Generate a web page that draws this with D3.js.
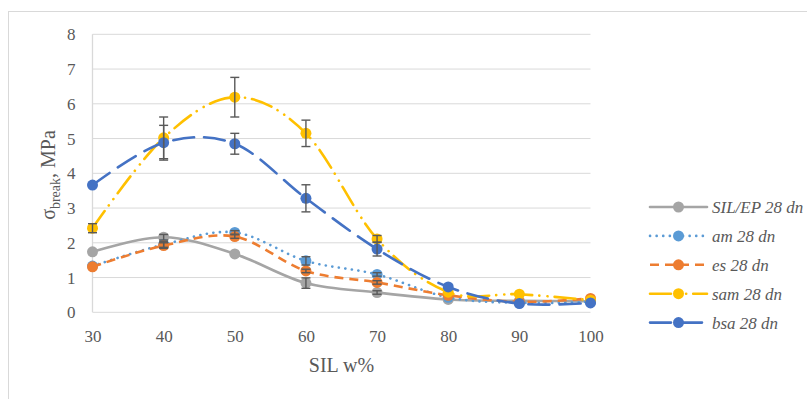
<!DOCTYPE html>
<html lang="en">
<head>
    <meta charset="utf-8">
    <script src="https://d3js.org/d3.v7.min.js"></script>
    <style>
        body { margin: 0; background: #fff; }
    </style>
</head>
<body>
    <div id="chart"></div>
    <script>
        // SIL content, w%
        const silContent = [30, 40, 50, 60, 70, 80, 90, 100];
        const yTicks = [0, 1, 2, 3, 4, 5, 6, 7, 8];

        // breaking stress, MPa
        const silEp = [1.74, 2.16, 1.68, 0.84, 0.57, 0.37, 0.33, 0.32];
        const am    = [1.33, 1.95, 2.30, 1.48, 1.09, 0.43, 0.27, 0.30];
        const es    = [1.31, 1.92, 2.18, 1.19, 0.86, 0.49, 0.30, 0.40];
        const sam   = [2.42, 5.02, 6.19, 5.15, 2.11, 0.58, 0.52, 0.35];
        const bsa   = [3.66, 4.88, 4.85, 3.28, 1.82, 0.73, 0.25, 0.27];

        // error bars (+/-)
        const silEpErr = [0, 0.08, 0, 0.15, 0.05, 0, 0, 0];
        const amErr    = [0, 0.08, 0.05, 0.12, 0.05, 0, 0, 0];
        const esErr    = [0, 0.08, 0.05, 0.05, 0.05, 0, 0, 0];
        const samErr   = [0.13, 0.6, 0.57, 0.38, 0.1, 0, 0, 0];
        const bsaErr   = [0, 0.5, 0.3, 0.39, 0.2, 0, 0, 0];

        const seriesNames = ["SIL/EP 28 dn", "am 28 dn", "es 28 dn", "sam 28 dn", "bsa 28 dn"];

        const series = [
            { name: seriesNames[0], values: silEp, err: silEpErr, color: "#A5A5A5", dash: null, cap: "round" },
            { name: seriesNames[1], values: am, err: amErr, color: "#5B9BD5", dash: "0.1 6.5", cap: "round" },
            { name: seriesNames[2], values: es, err: esErr, color: "#ED7D31", dash: "9 6", cap: "butt" },
            { name: seriesNames[3], values: sam, err: samErr, color: "#FFC000", dash: "21 7 0.1 8 0.1 7", cap: "round" },
            { name: seriesNames[4], values: bsa, err: bsaErr, color: "#4472C4", dash: "21 10", cap: "round" }
        ];

        const serif = "Liberation Serif, DejaVu Serif, serif";
        const textColor = "#595959";

        const W = 807, H = 399;
        const svg = d3.select("#chart").append("svg")
            .attr("width", W)
            .attr("height", H)
            .attr("font-family", serif);

        // chart frame (only left and top edges are in view)
        svg.append("rect")
            .attr("x", 8.5).attr("y", 11.5)
            .attr("width", 820).attr("height", 420)
            .attr("fill", "none")
            .attr("stroke", "#d9d9d9")
            .attr("stroke-width", 1);

        const x = d3.scaleLinear().domain([30, 100]).range([92.5, 590.5]);
        const y = d3.scaleLinear().domain([0, 8]).range([312.3, 34.3]);

        // horizontal gridlines
        svg.append("g")
            .selectAll("line")
            .data(yTicks)
            .join("line")
            .attr("x1", x(30)).attr("x2", x(100))
            .attr("y1", d => y(d)).attr("y2", d => y(d))
            .attr("stroke", "#d9d9d9")
            .attr("stroke-width", 1);

        // y axis line
        svg.append("line")
            .attr("x1", x(30)).attr("x2", x(30))
            .attr("y1", y(0)).attr("y2", y(8))
            .attr("stroke", "#d9d9d9")
            .attr("stroke-width", 1.3);

        // y tick labels
        const yAxis = svg.append("g")
            .attr("transform", `translate(${x(30) - 8},0)`)
            .call(d3.axisLeft(y).tickValues(yTicks).tickSize(0).tickPadding(9).tickFormat(d3.format("d")))
            .attr("font-family", serif)
            .attr("font-size", 17);
        yAxis.select(".domain").remove();
        yAxis.selectAll("text").attr("fill", textColor);

        // x tick labels
        const xAxis = svg.append("g")
            .attr("transform", `translate(0,${y(0)})`)
            .call(d3.axisBottom(x).tickValues(silContent).tickSize(0).tickPadding(18).tickFormat(d3.format("d")))
            .attr("font-family", serif)
            .attr("font-size", 17);
        xAxis.select(".domain").remove();
        xAxis.selectAll("text").attr("fill", textColor);

        // axis titles
        svg.append("text")
            .attr("x", (x(30) + x(100)) / 2)
            .attr("y", 372)
            .attr("text-anchor", "middle")
            .attr("fill", textColor)
            .attr("font-size", 20)
            .text("SIL w%");

        const yTitle = svg.append("text")
            .attr("transform", `translate(55,${175}) rotate(-90)`)
            .attr("text-anchor", "middle")
            .attr("fill", textColor)
            .attr("font-size", 20);
        yTitle.append("tspan").text("σ");
        yTitle.append("tspan").attr("dy", 5).attr("font-size", 14).text("break");
        yTitle.append("tspan").attr("dy", -5).text(", MPa");

        const line = d3.line()
            .x((d, i) => x(silContent[i]))
            .y(d => y(d))
            .curve(d3.curveCatmullRom.alpha(0));

        // lines and markers
        series.forEach(s => {
            const g = svg.append("g");
            g.append("path")
                .datum(s.values)
                .attr("d", line)
                .attr("fill", "none")
                .attr("stroke", s.color)
                .attr("stroke-width", 2.6)
                .attr("stroke-dasharray", s.dash)
                .attr("stroke-linecap", s.cap);
            g.selectAll("circle")
                .data(s.values)
                .join("circle")
                .attr("cx", (d, i) => x(silContent[i]))
                .attr("cy", d => y(d))
                .attr("r", 5.5)
                .attr("fill", s.color);
        });

        // error bars
        series.forEach(s => {
            const bars = s.values.map((v, i) => ({ x: silContent[i], lo: v - s.err[i], hi: v + s.err[i], e: s.err[i] }))
                .filter(d => d.e > 0);
            const g = svg.append("g")
                .attr("stroke", "#595959")
                .attr("stroke-width", 1.4);
            g.selectAll(".stem").data(bars).join("line")
                .attr("x1", d => x(d.x)).attr("x2", d => x(d.x))
                .attr("y1", d => y(d.lo)).attr("y2", d => y(d.hi));
            g.selectAll(".capHi").data(bars).join("line")
                .attr("x1", d => x(d.x) - 4.5).attr("x2", d => x(d.x) + 4.5)
                .attr("y1", d => y(d.hi)).attr("y2", d => y(d.hi));
            g.selectAll(".capLo").data(bars).join("line")
                .attr("x1", d => x(d.x) - 4.5).attr("x2", d => x(d.x) + 4.5)
                .attr("y1", d => y(d.lo)).attr("y2", d => y(d.lo));
        });

        // legend
        const legend = svg.append("g").attr("transform", "translate(650,207)");
        const rows = legend.selectAll("g")
            .data(series)
            .join("g")
            .attr("transform", (d, i) => `translate(0,${i * 28.9})`);
        rows.append("line")
            .attr("x1", 0).attr("x2", 57)
            .attr("y1", 0).attr("y2", 0)
            .attr("stroke", d => d.color)
            .attr("stroke-width", 2.6)
            .attr("stroke-dasharray", d => d.dash)
            .attr("stroke-linecap", d => d.cap);
        rows.append("circle")
            .attr("cx", 28.5).attr("cy", 0).attr("r", 5.5)
            .attr("fill", d => d.color);
        rows.append("text")
            .attr("x", 62).attr("y", 6)
            .attr("fill", textColor)
            .attr("font-size", 17)
            .attr("font-style", "italic")
            .text(d => d.name);
    </script>
</body>
</html>
